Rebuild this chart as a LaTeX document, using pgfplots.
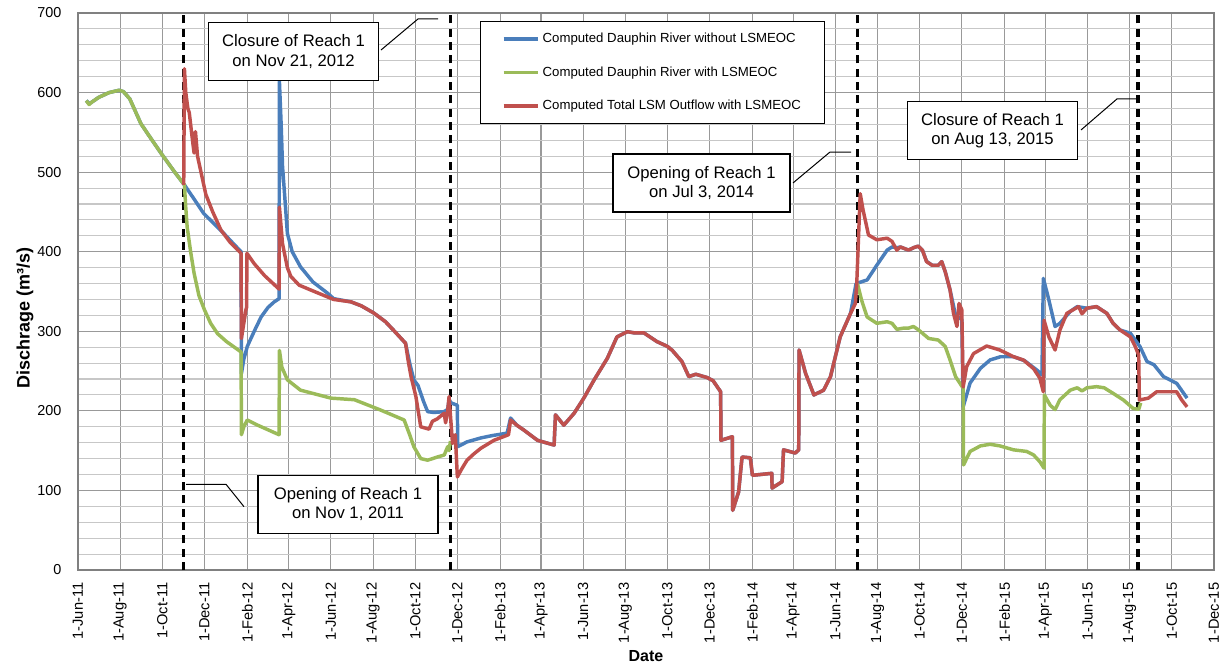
\documentclass[border=0pt]{standalone}
\usepackage{fontspec}
\setmainfont{Liberation Sans}
\usepackage{pgfplots}
\pgfplotsset{compat=1.18}

\definecolor{cblue}{HTML}{4A7EBB}
\definecolor{cgreen}{HTML}{9BBB59}
\definecolor{cred}{HTML}{C0504D}

\begin{document}
\begin{tikzpicture}
\begin{axis}[
  scale only axis,
  width=852pt, height=417.75pt,
  xmin=0, xmax=1644, ymin=0, ymax=700,
  xtick={0,61,122,183,245,305,366,427,488,549,611,670,731,792,853,914,976,1035,1096,1157,1218,1279,1341,1400,1461,1522,1583,1644},
  xticklabels={1-Jun-11,1-Aug-11,1-Oct-11,1-Dec-11,1-Feb-12,1-Apr-12,1-Jun-12,1-Aug-12,1-Oct-12,1-Dec-12,1-Feb-13,1-Apr-13,1-Jun-13,1-Aug-13,1-Oct-13,1-Dec-13,1-Feb-14,1-Apr-14,1-Jun-14,1-Aug-14,1-Oct-14,1-Dec-14,1-Feb-15,1-Apr-15,1-Jun-15,1-Aug-15,1-Oct-15,1-Dec-15},
  xticklabel style={rotate=90, anchor=east, font=\fontsize{11}{12}\selectfont},
  xticklabel shift=6pt,
  ytick={0,100,...,700},
  minor y tick num=4,
  yticklabel style={font=\fontsize{10.8}{12}\selectfont},
  yticklabel shift=9pt,
  /pgf/number format/assume math mode=true,
  grid=both,
  major grid style={black!40, line width=0.8pt},
  minor grid style={black!22, line width=0.8pt},
  tick style={draw=none},
  axis line style={black!50, line width=0.8pt},
  xlabel={\textbf{Date}},
  xlabel style={at={(axis description cs:0.5,-0.1544)}, anchor=center, font=\fontsize{12}{14}\selectfont},
  ylabel={\textbf{Dischrage (m³/s)}},
  ylabel style={at={(axis description cs:-0.0467,0.452)}, anchor=center, font=\fontsize{13.5}{15}\selectfont},
  legend style={at={(axis description cs:0.3539,0.9862)}, anchor=north west,
    draw=black, line width=0.8pt, fill=white, font=\fontsize{9.9}{11}\selectfont,
    inner xsep=16pt, inner ysep=7pt, row sep=12.5pt},
  legend cell align=left,
  legend image code/.code={\draw[#1, line width=2.6pt] (0pt,0pt) -- (26pt,0pt);},
  every axis plot/.append style={line width=2.6pt, line join=round},
]
% reach 1 opening and closure dates
\addplot[black, line width=2.5pt, dash pattern=on 6pt off 4pt, forget plot] coordinates {(153,0) (153,700)};
\addplot[black, line width=2.5pt, dash pattern=on 6pt off 4pt, forget plot] coordinates {(539,0) (539,700)};
\addplot[black, line width=2.5pt, dash pattern=on 6pt off 4pt, forget plot] coordinates {(1128,0) (1128,700)};
\addplot[black, line width=2.5pt, dash pattern=on 6pt off 4pt, forget plot] coordinates {(1534,0) (1534,700)};

% without LSMEOC
\addplot[cblue] coordinates {
(12,590) (16,586) (20,588) (30,594) (45,600) (60,603) (66,601) (75,592) (91,561) (105,543) (120,524) (140,500) (154,484) (165,470) (182,448) (196,436) (211,423) (225,410) (236,400) (236.5,247) (240,265) (245,281) (255,300) (265,318) (275,330) (284,337) (291,341) (291.5,614) (294,560) (296,507) (300,460) (303,423) (310,400) (322,381) (340,362) (361,348) (370,341) (395,337) (410,332) (428,323) (445,312) (457,301) (474,285) (480,260) (486,239) (492,232) (500,212) (506,199) (515,198) (530,199) (535,202) (537,214) (540,210) (549,207) (549.5,155) (563,161) (583,166) (600,169) (621,172) (626,191) (635,182) (645,176) (665,163) (689,157) (691,195) (703,182) (718,197) (732,216) (747,239) (766,266) (780,293) (795,299.5) (805,298) (819,298) (838,287) (853,281) (860,276) (874,262) (884,243) (894,246) (910,242) (919,238) (930,224) (930.5,163) (947,167.5) (947.5,75) (956,98) (961,142) (973,141) (976,119) (1004,121.5) (1004.5,103) (1019,111) (1021,151) (1038,147) (1043,151) (1043.5,276.5) (1053,247) (1065,220) (1079,226) (1089,243) (1103,293) (1118,322.5) (1126,360) (1142,364.5) (1156,383) (1171,402) (1178,406) (1185,405) (1190,406) (1202,402) (1209,405) (1216,407) (1222,402) (1228,388) (1236,383) (1245,383) (1250,387.5) (1255,375) (1262,352) (1270,320) (1279,315) (1281,205) (1291,235) (1306,253.5) (1320,264) (1335,268) (1354,268) (1370,263) (1388,251) (1395,245) (1397,366.5) (1404,343) (1414,306) (1421,310) (1436,325) (1446,331) (1460,329) (1474,331) (1489,322.5) (1498,310) (1508,301.6) (1523,297.5) (1537,280.6) (1547,262) (1557,258) (1571,243) (1590,234.6) (1605,216)
};
\addlegendentry{Computed Dauphin River without LSMEOC}

% with LSMEOC
\addplot[cgreen] coordinates {
(12,590) (16,585) (20,588) (30,594) (45,600) (60,603) (66,601) (75,592) (91,561) (105,543) (120,524) (140,500) (154,484) (156,455) (158,431) (163,400) (168,373) (175,345) (183,327) (192,310) (202,297) (215,287) (236,274) (236.5,170) (240,180) (245,188.5) (260,182) (291,170) (291.5,276) (295,255) (303,239) (322,226) (366,216) (400,214) (438,201) (472,188.5) (480,170) (486,155) (496,140) (506,138) (520,142) (530,144.5) (535,155) (537,150) (539,162)
};
\addlegendentry{Computed Dauphin River with LSMEOC}
\addplot[cgreen, forget plot] coordinates {
(1128,360) (1134,339) (1142,318) (1156,310) (1171,312) (1178,310) (1185,302.5) (1195,304) (1202,304) (1209,306) (1216,302) (1231,291) (1245,289) (1255,281) (1262,264) (1270,243) (1281,228.5) (1281.5,132) (1291,149) (1306,156) (1320,158) (1334,156) (1354,151) (1373,149) (1383,144.5) (1392,136) (1398,128) (1398.5,220) (1407,207) (1414,201.6) (1421,214) (1436,226) (1446,229) (1453,225) (1460,229) (1474,230.4) (1485,229) (1498,222) (1513,213.6) (1527,203) (1535,202) (1538,210)
};

% total outflow
\addplot[cred] coordinates {
(153,484) (154,630) (156,600) (159,580) (161,575) (163,560) (165,545) (168,524) (170,551) (173,520) (178,500) (185,472) (195,450) (207,427) (220,412) (236,398) (236.5,291) (243,327) (244,330) (244.5,398) (255,385) (270,370) (291,353) (291.5,456) (296,410) (303,380) (308,369) (320,358) (342,350) (370,340) (395,337) (410,332) (428,323) (445,312) (457,301) (474,285) (478,262) (482,243) (489,218) (496,180) (508,177) (513,187) (520,190) (530,197) (532,185) (535,200) (537,218) (542,159) (546,170) (549,117) (556,128) (563,138) (573,146) (583,153) (602,163) (623,170) (626,188.5) (635,182) (645,176) (665,163) (689,157) (691,195) (703,182) (718,197) (732,216) (747,239) (766,266) (780,293) (795,299.5) (805,298) (819,298) (838,287) (853,281) (860,276) (874,262) (884,243) (894,246) (910,242) (919,238) (930,224) (930.5,163) (947,167.5) (947.5,75) (956,98) (961,142) (973,141) (976,119) (1004,121.5) (1004.5,103) (1019,111) (1021,151) (1038,147) (1043,151) (1043.5,276.5) (1053,247) (1065,220) (1079,226) (1089,243) (1103,293) (1118,322.5) (1125,335) (1127,360) (1132,473) (1136,453) (1144,421) (1156,415) (1171,417) (1178,413) (1185,402) (1190,406) (1202,402) (1209,405) (1216,407) (1222,402) (1228,387.5) (1236,383) (1245,383) (1250,387.5) (1255,375) (1262,352) (1267,322.5) (1272,306) (1275,335) (1279,327) (1281,230) (1286,255.5) (1296,272) (1315,281.5) (1334,276.5) (1354,268) (1368,264) (1383,253) (1392,241) (1397,224) (1398,314) (1405,293) (1414,276.5) (1421,301.6) (1431,322.5) (1448,331) (1453,322) (1460,329) (1474,331) (1489,322.5) (1498,310) (1508,301.6) (1523,293) (1530,281) (1535,270) (1536,213.6) (1549,216) (1561,224) (1576,224) (1590,224) (1597,214) (1605,205)
};
\addlegendentry{Computed Total LSM Outflow with LSMEOC}

% callouts
\draw[black, line width=0.75pt] (axis cs:438.5,653.5) -- (axis cs:492,692.5) -- (axis cs:521,692.5);
\node[draw=black, line width=0.8pt, fill=white, align=center, minimum width=128pt, minimum height=43pt, inner sep=0pt, font=\fontsize{12.5}{14.5}\selectfont] at (axis cs:311.9,651.6) {Closure of Reach 1\\on Nov 21, 2012};

\draw[black, line width=0.75pt] (axis cs:156.3,107.7) -- (axis cs:214.2,107.7) -- (axis cs:240.2,79.6);
\node[draw=black, line width=0.8pt, fill=white, align=center, minimum width=135pt, minimum height=43.5pt, inner sep=0pt, font=\fontsize{12.5}{14.5}\selectfont] at (axis cs:390.7,82.9) {Opening of Reach 1\\on Nov 1, 2011};

\draw[black, line width=0.75pt] (axis cs:1034.7,486.4) -- (axis cs:1088.3,525.3) -- (axis cs:1118.7,525.3);
\node[draw=black, line width=0.8pt, fill=white, align=center, minimum width=132.75pt, minimum height=43.5pt, inner sep=0pt, font=\fontsize{12.5}{14.5}\selectfont] at (axis cs:902.3,486.4) {Opening of Reach 1\\on Jul 3, 2014};

\draw[black, line width=0.75pt] (axis cs:1451.5,553) -- (axis cs:1503.6,592) -- (axis cs:1532.6,592);
\node[draw=black, line width=0.8pt, fill=white, align=center, minimum width=128pt, minimum height=43pt, inner sep=0pt, font=\fontsize{12.5}{14.5}\selectfont] at (axis cs:1323.4,552.3) {Closure of Reach 1\\on Aug 13, 2015};
\end{axis}
\pgfresetboundingbox
\path (-58.5pt,-70.5pt) rectangle (860.25pt,427.5pt);
\end{tikzpicture}
\end{document}
